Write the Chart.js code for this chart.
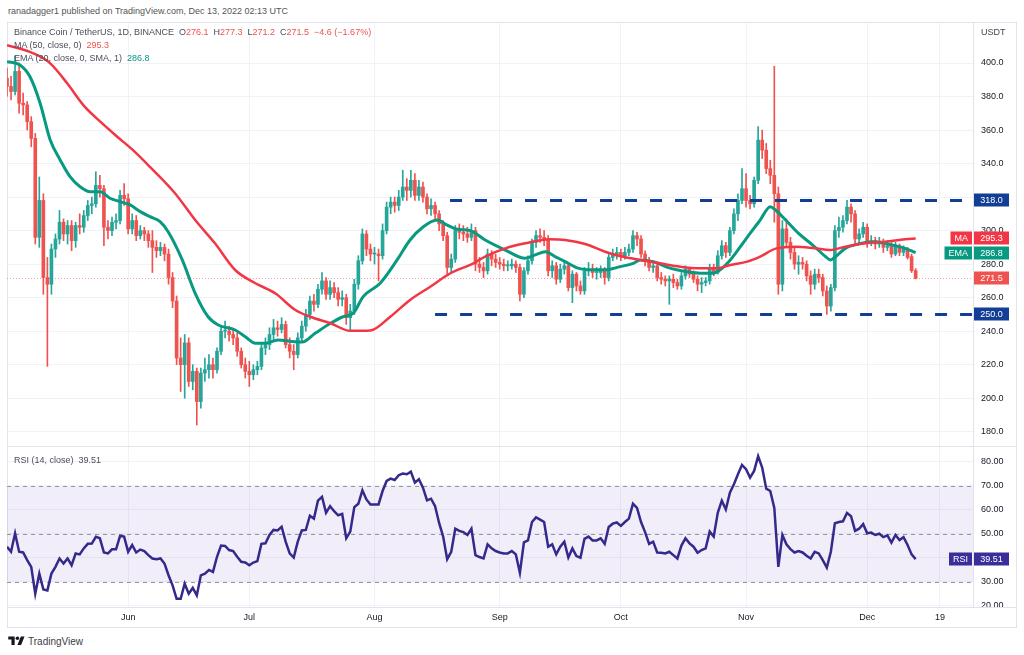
<!DOCTYPE html>
<html>
<head>
<meta charset="utf-8">
<script src="https://cdn.jsdelivr.net/npm/chart.js@4.4.1/dist/chart.umd.min.js"></script>
<style>
  html, body { margin: 0; padding: 0; background: #fff; }
  body { width: 1024px; height: 655px; position: relative; overflow: hidden;
         font-family: "Liberation Sans", Arial, sans-serif; color: #434651; }
  #head { position: absolute; left: 8px; top: 6px; font-size: 9px; color: #555; white-space: nowrap; }
  #frame { position: absolute; left: 7px; top: 22px; width: 1010px; height: 606px;
           border: 1px solid #e0e3eb; box-sizing: border-box; }
  canvas { position: absolute; left: 0; }
  #price { top: 0; }
  #rsi { top: 447px; }
  .sep { position: absolute; background: #e0e3eb; }
  .legend { position: absolute; left: 14px; font-size: 9px; line-height: 11px; color: #4a4e59; white-space: nowrap; }
  .r { color: #ef5350; }
  .g { color: #089981; }
  #usdt { position: absolute; left: 981px; top: 27px; font-size: 9px; color: #434651; }
  #cut { position: absolute; left: 974px; top: 608px; width: 42px; height: 19px; background: #fff; }
  #tv { position: absolute; left: 8px; top: 635px; font-size: 10px; color: #3a3d45; white-space: nowrap; }
  #tv svg { vertical-align: -1px; margin-right: 3px; }
</style>
</head>
<body>
<div id="head">ranadagger1 published on TradingView.com, Dec 13, 2022 02:13 UTC</div>
<div id="frame"></div>
<canvas id="price" width="1024" height="447"></canvas>
<canvas id="rsi" width="1024" height="181"></canvas>
<div class="sep" style="left:7px;top:446px;width:1010px;height:1px"></div>
<div class="sep" style="left:7px;top:607px;width:1010px;height:1px"></div>
<div id="cut"></div>
<div id="usdt">USDT</div>
<div class="legend" style="top:27px">Binance Coin / TetherUS, 1D, BINANCE&nbsp; O<span class="r" id="lo"></span>&nbsp; H<span class="r" id="lh"></span>&nbsp; L<span class="r" id="ll"></span>&nbsp; C<span class="r" id="lc"></span>&nbsp; <span class="r" id="lchg"></span></div>
<div class="legend" style="top:40px">MA (50, close, 0)&nbsp; <span class="r" id="lma"></span></div>
<div class="legend" style="top:53px">EMA (20, close, 0, SMA, 1)&nbsp; <span class="g" id="lema"></span></div>
<div class="legend" style="top:455px">RSI (14, close)&nbsp; <span id="lrsi"></span></div>
<div id="tv"><svg width="17" height="11" viewBox="0 0 36 24"><path d="M14 22H7V10H0V3h14v19zM28 22h-8l7.5-19h8L28 22z" fill="#131722"/><circle cx="20" cy="7" r="4" fill="#131722"/></svg>TradingView</div>

<script>
// daily candles, 2 May 2022 (index 0) to 13 Dec 2022 (index 225)
const opens = [
  391,386,383,395,376,375,365,355,296,318,
  272,268,289,295,305,298,303,294,303,302,
  309,315,316,327,325,302,300,305,306,321,
  319,301,306,297,300,298,294,290,288,290,
  286,272,258,224,220,233,210,216,198,215,
  217,220,217,228,240,240,238,236,228,220,
  216,214,217,219,230,232,238,242,241,244,
  232,228,226,236,243,250,258,256,265,270,
  262,266,263,259,260,248,252,268,282,298,
  289,286,286,285,300,314,317,315,320,326,
  324,330,321,326,320,313,315,310,304,297,
  278,283,300,299,298,296,300,280,278,276,
  286,283,281,280,279,279,280,278,262,276,
  282,293,297,296,295,276,279,271,277,279,
  266,274,267,264,276,277,275,275,276,272,
  284,286,287,285,287,289,297,295,286,282,
  278,279,272,271,270,271,269,267,273,277,
  274,271,268,269,270,278,275,285,291,287,
  300,310,318,325,318,316,330,354,348,337,
  333,322,268,301,293,287,280,281,280,273,
  268,274,272,264,255,266,300,302,306,314,
  310,295,298,302,293,294,292,293,290,291,
  286,291,287,289,284.5,276.1
];
const highs = [
  397,392,404,400,382,377,368,358,332,322,
  284,292,298,312,307,306,306,305,310,312,
  318,320,335,333,327,306,308,310,324,328,
  322,310,309,303,302,300,300,294,293,292,
  289,275,261,236,238,236,220,218,218,224,
  226,224,230,243,246,243,241,239,230,224,
  222,220,222,233,236,242,247,246,248,246,
  236,232,239,246,253,261,262,268,275,272,
  270,269,266,264,262,256,271,285,301,300,
  292,290,289,304,317,320,320,324,336,331,
  336,334,330,329,322,319,317,312,306,299,
  286,303,304,303,302,304,302,284,281,289,
  288,286,284,283,282,283,282,280,278,285,
  295,300,301,300,297,282,281,280,281,280,
  276,275,270,278,281,280,278,279,278,287,
  289,290,289,290,292,300,299,297,288,284,
  282,280,275,273,273,274,271,275,279,278,
  276,273,272,272,280,280,288,294,293,302,
  313,322,337,334,321,332,362,360,352,342,
  398,326,306,307,296,290,285,284,282,276,
  277,277,274,267,268,303,308,309,318,316,
  312,301,305,304,297,296,296,295,294,293,
  293,292,291,290,286,277.3
];
const lows = [
  380,378,381,370,369,360,350,292,290,262,
  219,262,284,292,294,292,288,290,298,299,
  306,310,314,320,291,295,297,301,304,315,
  298,298,294,295,294,290,275,284,285,282,
  268,254,220,204,200,207,205,184,194,210,
  212,212,215,226,236,234,232,225,218,212,
  207,211,214,217,226,229,235,237,239,230,
  224,217,224,234,240,247,252,254,262,259,
  259,260,255,255,244,240,250,265,280,285,
  282,280,270,283,298,310,311,312,318,318,
  320,318,318,317,310,309,306,300,294,274,
  275,281,295,294,293,294,276,275,272,274,
  279,278,277,276,276,277,275,258,260,274,
  280,290,293,291,273,272,268,269,274,264,
  257,264,262,262,273,272,271,272,268,270,
  282,283,282,283,285,287,291,284,279,276,
  275,270,268,267,256,266,265,265,271,272,
  269,264,263,267,268,273,274,283,284,285,
  298,306,316,314,313,314,328,343,334,328,
  305,262,264,290,283,277,274,277,270,262,
  265,269,261,250,252,264,296,299,304,305,
  292,292,296,290,291,289,290,287,288,284,
  285,285,285,283,275,271.2
];
const closes = [
  386,383,395,376,375,365,355,296,318,272,
  268,289,295,305,298,303,294,303,302,309,
  315,316,327,325,302,300,305,306,321,319,
  301,306,297,300,298,294,290,288,290,286,
  272,258,224,220,233,210,216,198,215,217,
  220,217,228,240,240,238,236,228,220,216,
  214,217,219,230,232,238,242,241,244,232,
  228,226,236,243,250,258,256,265,270,262,
  266,263,259,260,248,252,268,282,298,289,
  286,286,285,300,314,317,315,320,326,324,
  330,321,326,320,313,315,310,304,297,278,
  283,300,299,298,296,300,280,278,276,286,
  283,281,280,279,279,280,278,262,276,282,
  293,297,296,295,276,279,271,277,279,266,
  274,267,264,276,277,275,275,276,272,284,
  286,287,285,287,289,297,295,286,282,278,
  279,272,271,270,271,269,267,273,277,274,
  271,268,269,270,278,275,285,291,287,300,
  310,318,325,318,316,330,354,348,337,333,
  322,268,301,293,287,280,281,280,273,268,
  274,272,264,255,266,300,302,306,314,310,
  295,298,302,293,294,292,293,290,291,286,
  291,287,289,284,276.1,271.5
];
const rsiValues = [
  44.7,42.6,50.3,42.6,42.3,39.1,36.3,25.1,33.5,26.9,
  26.5,33.5,36.3,39.8,37.7,39.8,37,41.9,41.5,44,
  45.9,46,48.8,48.2,42.3,41.9,43.6,43.6,49.2,48.9,
  42.6,45.4,42.3,43.5,42.9,41.2,39.8,39.5,39.8,37.7,
  32.8,28.6,23,23,29.3,25.1,27.5,24.4,32.8,33.5,
  35,34.2,40.5,45.2,45,43.3,42.9,40.5,38.4,38.1,
  37,38.1,38.7,45.9,46.1,49.6,51.7,51.5,53,46.8,
  41.9,40.2,46.8,51.5,51.7,57.6,56.4,63.9,65.5,58.8,
  61.6,59.5,57.8,58.4,48.2,51,61.2,62.6,68.2,64.4,
  62.3,62.3,62.3,67.9,72.1,73.1,72.5,74.5,75.2,74.9,
  76,71.4,72.8,69.3,64,64.7,61.6,54.6,48.9,39.5,
  42.6,52.2,51.3,50.8,49.6,52.2,41.2,40.4,39.8,45.7,
  44,42.9,42.3,41.9,41.9,42.9,41.5,33.8,46.5,47.3,
  55,56.9,56,55,44.7,45.7,41.5,44.7,46.8,40.2,
  44,40.8,40.1,48,48.9,47.3,47.3,48.2,45.9,52.9,
  54.3,54.8,53.4,55,56.4,62.6,60.9,55,50.8,45.9,
  46.8,42.3,42.2,41.9,42.6,41.2,39.8,45.2,48.2,46.1,
  44.7,42.2,43.3,44,51,48.9,58.8,63.9,60.2,67.2,
  70.7,74.9,78.8,77,73.5,76.3,82.4,77.7,68.9,67.9,
  60.9,36.3,49.6,45.7,43.7,42.3,42.9,42.3,40.9,39.8,
  42.6,41.9,39.1,36,42.6,54.5,55,55.3,58.8,57.4,
  51.3,52.2,54.1,50.3,50.6,49.6,50.1,48.7,49.4,46.4,
  49.6,47.5,48.7,45.4,41.5,39.51
];

// moving averages (day index, value)
const maDays = [0,6.5,10.7,14.9,18.9,23.1,27.3,31.2,35.4,41.6,46.6,51.5,56.5,61.5,66.4,71.4,75.1,80.1,85,90,
  94.9,99.8,104.8,109.7,115.5,118.4,123.4,128.3,134.5,138.2,143.2,148.1,152.3,156.8,161.7,166.7,171.7,175.9,179.1,183.3,
  186.5,190.5,195.2,200.1,203.8,207.6,212.5,217.5,222.4,225];
const maValues = [410.7,405.8,399.8,387.9,374.9,365,356,348,338,322.3,306.3,292.4,276.5,268.6,262.6,252.6,248.6,244.7,240.2,240.4,
  248.6,258.6,266.5,274.4,280.5,284.5,289.4,292.4,294.8,294.4,292,287.4,284.5,282.5,280.5,278.5,277.6,277.6,279.5,281.5,
  284.5,289.4,290.4,289.4,288.4,290.4,292.4,293.4,294.8,295.3];
const emaDays = [0,3.2,5.7,8.2,10.7,13.2,15.6,18.1,20.6,23.1,25.5,28,30.5,33,35.4,37.9,39.9,43.4,46.6,49.8,
  52.3,56.5,59,61.5,63.9,67.1,70.6,73.1,76.3,80.1,83.2,85.7,88.2,92.4,96.6,99.8,103.1,106.5,109,111.5,
  114.7,118.4,123.4,128.3,130.8,133.3,135.7,138.2,141.4,144.9,148.1,151.8,155.1,156.8,160,164.2,168.4,172.4,174.9,176.6,
  179.1,181.6,184,186.5,189,190.3,192.8,196,199.5,202.7,203.9,205.2,207.6,210.8,215,219.2,222.4,225];
const emaValues = [400.8,398.8,391.8,376,354,342,332.2,326.2,323.2,323.2,319.3,317.3,315.3,311.3,308.3,305.3,299.3,282.5,262.6,248.6,
  243.7,240.7,236.7,232.8,232.8,234.7,233.8,233.5,238.7,244.7,248.6,250.6,260.6,268.6,282.5,294.4,302.3,306.3,303.3,300.8,
  300,294.4,288.4,283.5,285.5,287.4,284.5,281.5,277.6,276.6,276.6,278.5,280.5,282.5,281.5,277.6,275.5,274.6,274.6,276.6,
  282.5,290.4,298.3,306.3,314.3,312.3,306.3,298.3,291.4,284.5,282.5,284.5,289.4,292,293.4,291.4,289.4,286.8];

// horizontal levels drawn by the author
const levels = [318, 250];
const levelStarts = [109.7, 106];

const priceTicks = [180,200,220,240,260,280,300,320,340,360,380,400];
const rsiTicks = [20,30,40,50,60,70,80];
const rsiLevels = [70, 50, 30];
const monthTicks = [30,60,91,122,152,183,213,231];
const monthLabels = ['Jun','Jul','Aug','Sep','Oct','Nov','Dec','19'];

const UP = '#26a69a', DOWN = '#ef5350';
const MA_COLOR = '#f23645', EMA_COLOR = '#089981', RSI_COLOR = '#332a8c', LEVEL_COLOR = '#123f95';
const FONT = '"Liberation Sans", Arial, sans-serif';
const X_MIN = 0, X_MAX = 239.2;

Chart.defaults.font.family = FONT;
Chart.defaults.font.size = 9;

const last = closes.length - 1;
const candleColors = closes.map((c, i) => (c >= opens[i] ? UP : DOWN));
const days = closes.map((c, i) => i);

// legend texts
const chg = closes[last] - closes[last - 1];
document.getElementById('lo').textContent = opens[last].toFixed(1);
document.getElementById('lh').textContent = highs[last].toFixed(1);
document.getElementById('ll').textContent = lows[last].toFixed(1);
document.getElementById('lc').textContent = closes[last].toFixed(1);
document.getElementById('lchg').textContent =
  (chg < 0 ? '\u2212' : '+') + Math.abs(chg).toFixed(1) + ' (' + (chg < 0 ? '\u2212' : '+') +
  Math.abs(chg / closes[last - 1] * 100).toFixed(2) + '%)';
document.getElementById('lma').textContent = maValues[maValues.length - 1].toFixed(1);
document.getElementById('lema').textContent = emaValues[emaValues.length - 1].toFixed(1);
document.getElementById('lrsi').textContent = rsiValues[last].toFixed(2);

function xAxis(showLabels) {
  return {
    type: 'linear', min: X_MIN, max: X_MAX, offset: false,
    afterBuildTicks: (s) => { s.ticks = monthTicks.map((v) => ({ value: v })); },
    grid: { color: '#f0f2f7', drawTicks: false, offset: false },
    border: { display: false },
    ticks: {
      display: showLabels, padding: 5, color: '#131722', maxRotation: 0, autoSkip: false,
      callback: (v, i) => monthLabels[i],
    },
    afterFit: (s) => {
      s.height = showLabels ? 21 : 0;
      s.paddingLeft = 0; s.paddingRight = 0;
    },
  };
}

function yAxis(min, max, ticks, digits) {
  return {
    type: 'linear', position: 'right', min: min, max: max, beginAtZero: false,
    afterBuildTicks: (s) => { s.ticks = ticks.map((v) => ({ value: v })); },
    ticks: { padding: 8, color: '#131722', callback: (v) => v.toFixed(digits) },
    grid: { color: '#f0f2f7', drawTicks: false },
    border: { display: true, color: '#e0e3eb' },
    afterFit: (s) => { s.width = 43; s.paddingTop = 0; s.paddingBottom = 0; },
  };
}

function tag(ctx, x, yPix, w, text, bg) {
  ctx.fillStyle = bg;
  ctx.fillRect(x, Math.round(yPix) - 6.5, w, 13);
  ctx.fillStyle = '#fff';
  ctx.font = '9px ' + FONT;
  ctx.textAlign = 'center';
  ctx.textBaseline = 'middle';
  ctx.fillText(text, x + w / 2, Math.round(yPix) + 0.5);
}

function nameTag(ctx, right, yPix, text, bg) {
  ctx.font = '9px ' + FONT;
  const w = ctx.measureText(text).width + 8;
  tag(ctx, right - w, yPix, w, text, bg);
}

const priceMarks = {
  id: 'priceMarks',
  beforeDatasetsDraw(chart) {
    const { ctx, chartArea: a, scales: { y } } = chart;
    const py = Math.round(y.getPixelForValue(closes[last])) + 0.5;
    ctx.save();
    ctx.strokeStyle = 'rgba(239,83,80,0.55)';
    ctx.lineWidth = 1;
    ctx.setLineDash([1, 2]);
    ctx.beginPath();
    ctx.moveTo(a.left, py);
    ctx.lineTo(a.right, py);
    ctx.stroke();
    ctx.restore();
  },
  afterDraw(chart) {
    const { ctx, chartArea: a, scales: { y } } = chart;
    const x0 = a.right + 1;
    ctx.save();
    levels.forEach((lv) => tag(ctx, x0, y.getPixelForValue(lv), 35, lv.toFixed(1), LEVEL_COLOR));
    const ma = maValues[maValues.length - 1];
    const ema = emaValues[emaValues.length - 1];
    tag(ctx, x0, y.getPixelForValue(ma), 35, ma.toFixed(1), MA_COLOR);
    nameTag(ctx, a.right - 1, y.getPixelForValue(ma), 'MA', MA_COLOR);
    tag(ctx, x0, y.getPixelForValue(ema), 35, ema.toFixed(1), EMA_COLOR);
    nameTag(ctx, a.right - 1, y.getPixelForValue(ema), 'EMA', EMA_COLOR);
    tag(ctx, x0, y.getPixelForValue(closes[last]), 35, closes[last].toFixed(1), DOWN);
    ctx.restore();
  },
};

const levelSets = levels.map((lv, i) => ({
  type: 'line',
  data: [{ x: levelStarts[i], y: lv }, { x: X_MAX, y: lv }],
  borderColor: LEVEL_COLOR, borderWidth: 3, borderDash: [12, 13],
  pointRadius: 0, order: 0,
}));

new Chart(document.getElementById('price'), {
  type: 'bar',
  data: {
    datasets: [
      {
        data: days.map((i) => ({ x: i, y: [lows[i], highs[i]] })),
        backgroundColor: candleColors, barThickness: 1, grouped: false,
        borderWidth: 0, borderSkipped: false, order: 3,
      },
      {
        data: days.map((i) => ({ x: i, y: [opens[i], closes[i]] })),
        backgroundColor: candleColors, barThickness: 3, grouped: false, minBarLength: 1,
        borderWidth: 0, borderSkipped: false, order: 2,
      },
      {
        type: 'line',
        data: maDays.map((d, i) => ({ x: d, y: maValues[i] })),
        borderColor: MA_COLOR, borderWidth: 2.5, pointRadius: 0,
        cubicInterpolationMode: 'monotone', order: 1,
      },
      {
        type: 'line',
        data: emaDays.map((d, i) => ({ x: d, y: emaValues[i] })),
        borderColor: EMA_COLOR, borderWidth: 3, pointRadius: 0,
        cubicInterpolationMode: 'monotone', order: 1,
      },
      ...levelSets,
    ],
  },
  options: {
    responsive: false,
    animation: false,
    events: [],
    layout: { padding: { left: 7, right: 8, top: 23, bottom: 1 } },
    plugins: { legend: { display: false }, tooltip: { enabled: false } },
    scales: {
      x: xAxis(false),
      y: yAxis(171.48, 423.87, priceTicks, 1),
    },
  },
  plugins: [priceMarks],
});

const rsiMarks = {
  id: 'rsiMarks',
  beforeDatasetsDraw(chart) {
    const { ctx, chartArea: a, scales: { y } } = chart;
    const top = y.getPixelForValue(rsiLevels[0]);
    const bottom = y.getPixelForValue(rsiLevels[rsiLevels.length - 1]);
    ctx.save();
    ctx.fillStyle = 'rgba(126,87,194,0.1)';
    ctx.fillRect(a.left, top, a.right - a.left, bottom - top);
    ctx.strokeStyle = '#9598a1';
    ctx.lineWidth = 1;
    ctx.setLineDash([4, 4]);
    rsiLevels.forEach((lv) => {
      const py = Math.round(y.getPixelForValue(lv)) + 0.5;
      ctx.beginPath();
      ctx.moveTo(a.left, py);
      ctx.lineTo(a.right, py);
      ctx.stroke();
    });
    ctx.restore();
  },
  afterDraw(chart) {
    const { ctx, chartArea: a, scales: { y } } = chart;
    const v = rsiValues[last];
    ctx.save();
    tag(ctx, a.right + 1, y.getPixelForValue(v), 35, v.toFixed(2), '#3a2f9a');
    nameTag(ctx, a.right - 1, y.getPixelForValue(v), 'RSI', '#3a2f9a');
    ctx.restore();
  },
};

new Chart(document.getElementById('rsi'), {
  type: 'line',
  data: {
    datasets: [{
      data: days.map((i) => ({ x: i, y: rsiValues[i] })),
      borderColor: RSI_COLOR, borderWidth: 2.5, pointRadius: 0, tension: 0,
    }],
  },
  options: {
    responsive: false,
    animation: false,
    events: [],
    layout: { padding: { left: 7, right: 8, top: 0, bottom: 0 } },
    plugins: { legend: { display: false }, tooltip: { enabled: false } },
    scales: {
      x: xAxis(true),
      y: yAxis(19.58, 86.25, rsiTicks, 2),
    },
  },
  plugins: [rsiMarks],
});
</script>
</body>
</html>
